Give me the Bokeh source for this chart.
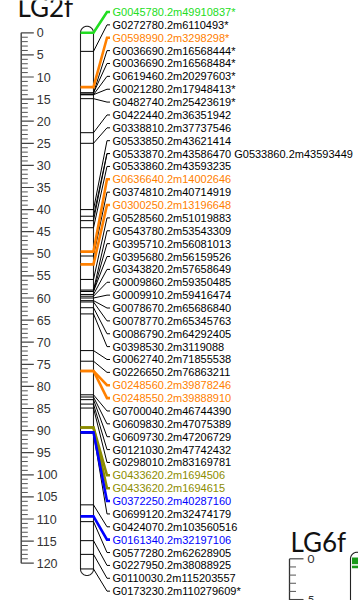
import numpy as np
from bokeh.plotting import figure
from bokeh.models import Range1d
from bokeh.core.properties import value
from bokeh.embed import file_html
from bokeh.resources import INLINE

# ---------------- data: LG2f ----------------
lg2_title = "LG2f"
lg2_ticks_major = list(range(0, 121, 5))
lg2_ticks_minor = [t for t in range(0, 121) if t % 5 != 0]
lg2_length = 121.3

lg2_labels = [
    "G0045780.2m49910837*", "G0272780.2m6110493*", "G0598990.2m3298298*",
    "G0036690.2m16568444*", "G0036690.2m16568484*", "G0619460.2m20297603*",
    "G0021280.2m17948413*", "G0482740.2m25423619*", "G0422440.2m36351942",
    "G0338810.2m37737546", "G0533850.2m43621414",
    "G0533870.2m43586470  G0533860.2m43593449",
    "G0533860.2m43593235", "G0636640.2m14002646", "G0374810.2m40714919",
    "G0300250.2m13196648", "G0528560.2m51019883", "G0543780.2m53543309",
    "G0395710.2m56081013", "G0395680.2m56159526", "G0343820.2m57658649",
    "G0009860.2m59350485", "G0009910.2m59416474", "G0078670.2m65686840",
    "G0078770.2m65345763", "G0086790.2m64292405", "G0398530.2m3119088",
    "G0062740.2m71855538", "G0226650.2m76863211", "G0248560.2m39878246",
    "G0248550.2m39888910", "G0700040.2m46744390", "G0609830.2m47075389",
    "G0609730.2m47206729", "G0121030.2m47742432", "G0298010.2m83169781",
    "G0433620.2m1694506", "G0433620.2m1694615", "G0372250.2m40287160",
    "G0699120.2m32474179", "G0424070.2m103560516", "G0161340.2m32197106",
    "G0577280.2m62628905", "G0227950.2m38088925", "G0110030.2m115203557",
    "G0173230.2m110279609*",
]
# colour group of each label: k=black, g=green, o=orange, y=olive, b=blue
lg2_groups = ["g", "k", "o", "k", "k", "k", "k", "k", "k", "k", "k", "k", "k",
              "o", "k", "o", "k", "k", "k", "k", "k", "k", "k", "k", "k", "k",
              "k", "k", "k", "o", "o", "k", "k", "k", "k", "k", "y", "y", "b",
              "k", "k", "b", "k", "k", "k", "k"]
# marker positions (cM) and the label each marker belongs to
lg2_marker_cm = [0.0, 4.2, 12.3, 13.6, 13.6, 14.0, 14.0, 14.9, 22.6, 25.0,
                 40.0, 41.5, 42.5, 44.1, 49.5, 50.5, 52.4, 55.8, 58.2, 58.5,
                 58.5, 59.2, 59.6, 60.0, 60.6, 60.9, 62.2, 63.6, 71.9, 74.3,
                 76.5, 76.5, 81.9, 82.4, 83.0, 84.0, 84.9, 89.3, 89.3, 90.4,
                 90.6, 106.8, 109.4, 110.6, 114.9, 118.0, 121.3]
lg2_marker_label = [0, 1, 2, 3, 4, 5, 6, 7, 8, 9,
                    10, 11, 11, 12, 13, 14, 15, 16, 17, 18,
                    19, 20, 21, 22, 23, 24, 25, 26, 27, 28,
                    29, 30, 31, 32, 33, 34, 35, 36, 37, 38,
                    39, 40, 41, 42, 43, 44, 45]

# ---------------- data: LG6f ----------------
lg6_title = "LG6f"
lg6_ticks_major = [0, 5]
lg6_ticks_minor = [1, 2, 3, 4]
lg6_marker_cm = [0.0, 0.25, 0.5, 1.0]
lg6_length = 30.0

# ---------------- styling / layout ----------------
W, H = 358, 600
PX_PER_CM2 = 4.42
Y0_2 = 32.3          # pixel of 0 cM on LG2f
PX_PER_CM6 = 8.15
Y0_6 = 558.3         # pixel of 0 cM on LG6f

colors = {"k": "#000000", "g": "#22dd22", "o": "#ff8000",
          "y": "#8c8c00", "b": "#0000ff"}

def px2cm2(py):
    return (py - Y0_2) / PX_PER_CM2

def px2cm6(py):
    return (py - Y0_6) / PX_PER_CM6

p = figure(width=W, height=H, output_backend="svg", toolbar_location=None,
           x_range=Range1d(0, W), y_range=Range1d(px2cm2(H), px2cm2(0)),
           min_border=0, outline_line_color=None, x_axis_type=None,
           y_axis_type=None)
p.grid.visible = False
p.extra_y_ranges = {"lg6": Range1d(px2cm6(H), px2cm6(0))}
p.background_fill_color = "white"

SANS = value("Liberation Sans")
TITLE = value("Lato")

# ---------- LG2f ruler ----------
RX = 20.7
p.segment(x0=[RX], y0=[0], x1=[RX], y1=[lg2_ticks_major[-1]],
          line_color="#333333", line_width=1.3)
p.segment(x0=RX, y0=lg2_ticks_major, x1=RX + 12.6, y1=lg2_ticks_major,
          line_color="#444444", line_width=1.2)
p.segment(x0=RX, y0=lg2_ticks_minor, x1=RX + 6.6, y1=lg2_ticks_minor,
          line_color="#555555", line_width=1.0)
p.text(x=RX + 15.5, y=lg2_ticks_major, text=[str(t) for t in lg2_ticks_major],
       text_font=SANS, text_font_size="12.5px", text_color="#333333",
       text_baseline="middle", text_align="left")

# title LG2f (mostly above the visible page)
p.text(x=[17], y=[px2cm2(6)], text=[lg2_title], text_font=TITLE,
       text_font_size="26px", text_color="#111111", text_baseline="alphabetic")

# ---------- LG2f chromosome ----------
CL, CR = 80.0, 93.0
cx, r = (CL + CR) / 2, (CR - CL) / 2
t = np.linspace(0, np.pi, 30)
top_px = Y0_2
bot_px = Y0_2 + lg2_length * PX_PER_CM2
xs = list(cx - r * np.cos(t)) + list(cx + r * np.cos(t))
ys = [px2cm2(top_px - r * np.sin(a)) for a in t] + \
     [px2cm2(bot_px + r * np.sin(a)) for a in t]
p.patch(x=xs, y=ys, fill_color="white", line_color="#222222", line_width=1.1)

# ---------- LG2f markers, connectors and labels ----------
slot0, slot_dy = 11.5, 12.87
label_y = [px2cm2(slot0 + i * slot_dy) for i in range(len(lg2_labels))]

order = sorted(range(len(lg2_marker_cm)),
               key=lambda i: lg2_groups[lg2_marker_label[i]] != "k")
for i in order:
    li = lg2_marker_label[i]
    g = lg2_groups[li]
    c = colors[g]
    lw = 1.0 if g == "k" else 2.6
    m = lg2_marker_cm[i]
    ly = label_y[li]
    p.line(x=[CL, CR, 106.5, 109.5], y=[m, m, ly, ly], line_color=c,
           line_width=lw, line_join="miter")

p.text(x=112, y=label_y, text=lg2_labels,
       text_color=[colors[g] for g in lg2_groups],
       text_font=SANS, text_font_size="11px", text_baseline="middle",
       text_align="left")

# ---------- LG6f ----------
R6 = 289.0
p.text(x=[290], y=[px2cm6(541)], text=[lg6_title], text_font=TITLE,
       text_font_size="26px", text_color="#111111", text_baseline="alphabetic",
       y_range_name="lg6")
p.segment(x0=[R6], y0=[0], x1=[R6], y1=[6], line_color="#333333",
          line_width=1.3, y_range_name="lg6")
p.segment(x0=R6, y0=lg6_ticks_major, x1=R6 + 14, y1=lg6_ticks_major,
          line_color="#444444", line_width=1.2, y_range_name="lg6")
p.segment(x0=R6, y0=lg6_ticks_minor, x1=R6 + 6.5, y1=lg6_ticks_minor,
          line_color="#555555", line_width=1.0, y_range_name="lg6")
p.text(x=R6 + 18, y=lg6_ticks_major, text=[str(v) for v in lg6_ticks_major],
       text_font=TITLE, text_font_size="12px", text_color="#333333",
       text_baseline="middle", text_align="left", y_range_name="lg6")

C6L, C6R = 350.0, 363.0
cx6, r6 = (C6L + C6R) / 2, (C6R - C6L) / 2
xs6 = list(cx6 - r6 * np.cos(t)) + [C6R, C6L]
ys6 = [px2cm6(Y0_6 - r6 * np.sin(a)) for a in t] + [lg6_length, lg6_length]
p.patch(x=xs6, y=ys6, fill_color="white", line_color="#222222", line_width=1.1,
        y_range_name="lg6")
p.segment(x0=C6L + 1.5, y0=lg6_marker_cm, x1=C6R, y1=lg6_marker_cm,
          line_color="#1a9a1a", line_width=2.6, y_range_name="lg6")

open("out.html", "w").write(file_html(p, INLINE))
